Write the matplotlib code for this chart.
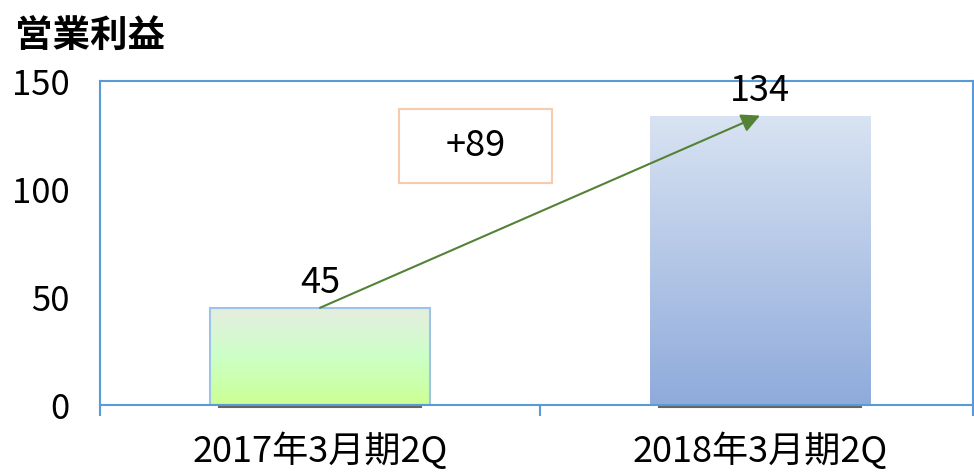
import numpy as np
import matplotlib.pyplot as plt
from matplotlib.patches import FancyArrowPatch, Rectangle

plt.rcParams['font.family'] = ['Noto Sans CJK JP', 'DejaVu Sans']

# データ
categories = ['2017年3月期2Q', '2018年3月期2Q']
values = [45, 134]
diff_label = '+89'
yticks = [0, 50, 100, 150]

fig = plt.figure(figsize=(9.74, 4.73), dpi=100)
ax = fig.add_axes([100 / 974, 1 - 405 / 473, 873 / 974, 324 / 473])

x = np.arange(len(categories))
bars = ax.bar(x, values, width=0.5, color='none', zorder=2)

# グラデーション
grads = [
    [(0.80, 1.00, 0.58), (0.80, 1.00, 0.78), (0.90, 0.93, 0.88)],
    [(0.56, 0.67, 0.86), (0.85, 0.89, 0.95)],
]
edge_cols = ['#9DC3E6', 'none']
for b, cols in zip(bars, grads):
    cols = np.array(cols)
    t = np.linspace(0, 1, 256)
    pos = np.linspace(0, 1, len(cols))
    img = np.stack([np.interp(t, pos, cols[:, k]) for k in range(3)], axis=1)
    img = img[:, None, :]
    x0, w, h = b.get_x(), b.get_width(), b.get_height()
    im = ax.imshow(img, extent=[x0, x0 + w, 0, h], origin='lower',
                   aspect='auto', zorder=1)
    im.set_clip_path(b)
for b, ec in zip(bars, edge_cols):
    b.set_edgecolor(ec)
    b.set_linewidth(1.5)
    # 下の影
    ax.plot([b.get_x() + 0.02, b.get_x() + b.get_width() - 0.02], [-0.8, -0.8],
            color='#666666', lw=1.5, zorder=3, clip_on=False)

ax.set_xlim(-0.5, 1.484)
ax.set_ylim(0, 150)
ax.set_yticks(yticks)
ax.set_xticks(x)
ax.set_xticklabels(categories, fontsize=26)
ax.set_xticks([-0.5, 0.5, 1.484], minor=True)
ax.tick_params(axis='x', which='major', length=0, pad=20)
ax.tick_params(axis='x', which='minor', length=8, width=1.5, color='#5B9BD5', direction='out')
ax.tick_params(axis='y', length=0, pad=22, labelsize=25)
for s in ax.spines.values():
    s.set_color('#5B9BD5')
    s.set_linewidth(1.5)

# データラベル
for xi, v in zip(x, values):
    ax.text(xi, v + 3, str(v), ha='center', va='bottom', fontsize=26)

# 矢印
arr = FancyArrowPatch((x[0], values[0]), (x[1], values[1]), arrowstyle='-|>',
                      mutation_scale=28, color='#548235', lw=1.5, zorder=4,
                      shrinkA=0, shrinkB=0)
ax.add_patch(arr)

# 差分ボックス
ax.add_patch(Rectangle((0.18, 103), 0.348, 34, fc='white', ec='#F8CBAD',
                       lw=1.5, zorder=5))
ax.text(0.354, 120, diff_label, ha='center', va='center', fontsize=26, zorder=6)

fig.text(15 / 974, 1 - 35 / 473, '営業利益', fontsize=27, fontweight='bold',
         ha='left', va='center')

fig.savefig('out.png', dpi=100)
